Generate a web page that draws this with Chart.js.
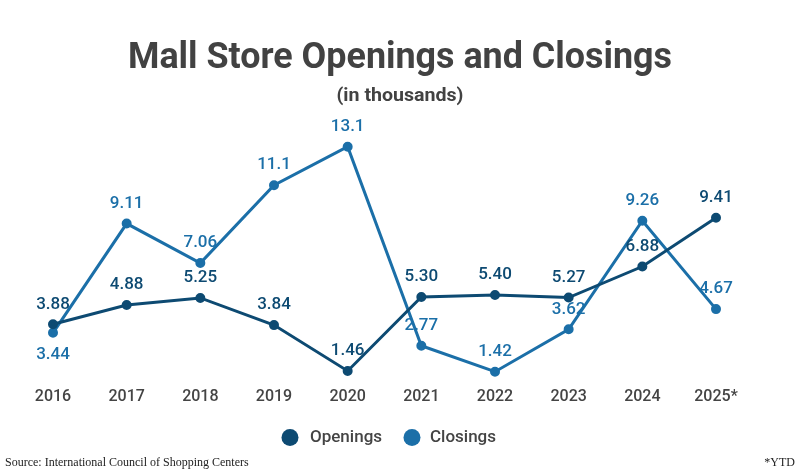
<!DOCTYPE html>
<html>
<head>
<meta charset="utf-8">
<script src="https://cdn.jsdelivr.net/npm/chart.js@4.4.1/dist/chart.umd.min.js"></script>
<style>
  html, body { margin: 0; padding: 0; background: #ffffff; }
  #wrap { width: 800px; height: 475px; position: relative; }
</style>
</head>
<body>
<div id="wrap"><canvas id="c" width="800" height="475"></canvas></div>
<script>
const years = ["2016", "2017", "2018", "2019", "2020", "2021", "2022", "2023", "2024", "2025*"];
const openings = [3.88, 4.88, 5.25, 3.84, 1.46, 5.30, 5.40, 5.27, 6.88, 9.41];
const closings = [3.44, 9.11, 7.06, 11.1, 13.1, 2.77, 1.42, 3.62, 9.26, 4.67];

const titleText = "Mall Store Openings and Closings";
const subtitleText = "(in thousands)";
const sourceText = "Source: International Council of Shopping Centers";
const noteText = "*YTD";

const openColor = "#0d4a72";
const closeColor = "#1b6fa8";
const textColor = "#444444";

const decorPlugin = {
  id: "decor",
  beforeDraw(chart) {
    const ctx = chart.ctx;
    ctx.save();
    ctx.fillStyle = "#ffffff";
    ctx.fillRect(0, 0, chart.width, chart.height);
    ctx.restore();
  },
  afterDraw(chart) {
    const ctx = chart.ctx;
    ctx.save();
    ctx.fillStyle = "#424242";
    ctx.textBaseline = "alphabetic";
    ctx.textAlign = "left";
    ctx.font = "bold 37px Roboto";
    let w = ctx.measureText(titleText).width;
    let sx = 544 / w;
    ctx.save();
    ctx.translate(400 - 272, 68);
    ctx.scale(sx, 1);
    ctx.fillText(titleText, 0, 0);
    ctx.restore();
    ctx.font = "bold 18px Roboto";
    w = ctx.measureText(subtitleText).width;
    sx = 127 / w;
    ctx.save();
    ctx.translate(400 - 63.5, 101);
    ctx.scale(sx, 1);
    ctx.fillText(subtitleText, 0, 0);
    ctx.restore();
    const items = [
      { label: chart.data.datasets[0].label, color: openColor, cx: 290, tx: 310 },
      { label: chart.data.datasets[1].label, color: closeColor, cx: 412, tx: 430 }
    ];
    ctx.font = "500 17px Roboto";
    ctx.textBaseline = "middle";
    items.forEach(it => {
      ctx.beginPath();
      ctx.fillStyle = it.color;
      ctx.arc(it.cx, 437.5, 8.5, 0, Math.PI * 2);
      ctx.fill();
      ctx.fillStyle = textColor;
      ctx.fillText(it.label, it.tx, 438);
    });
    ctx.font = "12px 'Liberation Serif'";
    ctx.fillStyle = "#222222";
    ctx.textBaseline = "alphabetic";
    ctx.textAlign = "left";
    ctx.fillText(sourceText, 5, 466);
    ctx.textAlign = "right";
    ctx.fillText(noteText, 795, 466);
    ctx.restore();
  }
};

const labelPlugin = {
  id: "valueLabels",
  afterDatasetsDraw(chart, args, opts) {
    const ctx = chart.ctx;
    ctx.save();
    ctx.font = "500 17px Roboto";
    ctx.textAlign = "center";
    ctx.textBaseline = "middle";
    chart.data.datasets.forEach((ds, di) => {
      const meta = chart.getDatasetMeta(di);
      ctx.fillStyle = ds.borderColor;
      meta.data.forEach((pt, i) => {
        const below = opts.below.some(b => b[0] === di && b[1] === i);
        const y = below ? pt.y + 22 : pt.y - 20;
        ctx.fillText(ds.data[i].toPrecision(3), pt.x, y);
      });
    });
    ctx.restore();
  }
};

new Chart(document.getElementById("c"), {
  type: "line",
  data: {
    labels: years,
    datasets: [
      {
        label: "Openings",
        data: openings,
        borderColor: openColor,
        backgroundColor: openColor,
        pointBackgroundColor: openColor,
        pointBorderColor: openColor,
        borderWidth: 3,
        pointRadius: 3.5,
        tension: 0,
        clip: false
      },
      {
        label: "Closings",
        data: closings,
        borderColor: closeColor,
        backgroundColor: closeColor,
        pointBackgroundColor: closeColor,
        pointBorderColor: closeColor,
        borderWidth: 3,
        pointRadius: 3.5,
        tension: 0,
        clip: false
      }
    ]
  },
  options: {
    responsive: false,
    animation: false,
    devicePixelRatio: 1,
    layout: { padding: { left: 53, right: 84, top: 139, bottom: 60 } },
    plugins: {
      legend: { display: false },
      title: { display: false },
      tooltip: { enabled: false },
      valueLabels: { below: [[1, 0]] }
    },
    scales: {
      x: {
        offset: false,
        grid: { display: false, drawTicks: false },
        border: { display: false },
        ticks: {
          color: textColor,
          font: { family: "Roboto", size: 16, weight: "500" },
          padding: 8,
          maxRotation: 0,
          autoSkip: false
        }
      },
      y: {
        display: false,
        min: 1,
        max: 13.5
      }
    }
  },
  plugins: [decorPlugin, labelPlugin]
});
</script>
</body>
</html>
